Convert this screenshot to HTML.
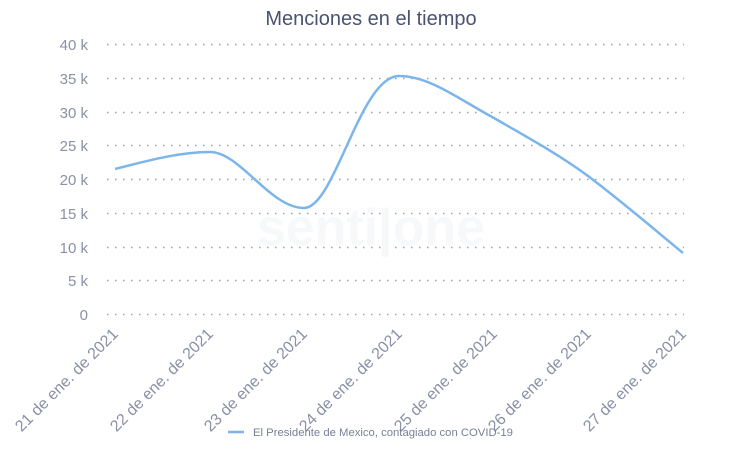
<!DOCTYPE html>
<html><head><style>body{margin:0;background:#fff}svg{display:block;font-family:"Liberation Sans",sans-serif}</style></head>
<body>
<svg width="742" height="450" xmlns="http://www.w3.org/2000/svg">
<text x="371" y="25" text-anchor="middle" font-size="20" fill="#4a5370">Menciones en el tiempo</text>
<g stroke="#9aa0ae" stroke-width="1.5" stroke-dasharray="1.5,6.5">
<line x1="107" x2="684" y1="44.5" y2="44.5"/><line x1="107" x2="684" y1="78.5" y2="78.5"/>
<line x1="107" x2="684" y1="112.5" y2="112.5"/><line x1="107" x2="684" y1="145.5" y2="145.5"/>
<line x1="107" x2="684" y1="179.5" y2="179.5"/><line x1="107" x2="684" y1="213.5" y2="213.5"/>
<line x1="107" x2="684" y1="247.5" y2="247.5"/><line x1="107" x2="684" y1="280.5" y2="280.5"/>
<line x1="107" x2="684" y1="314.5" y2="314.5"/>
</g>
<g font-size="15" fill="#8a90a6" text-anchor="end">
<text x="88" y="50">40 k</text><text x="88" y="84">35 k</text><text x="88" y="118">30 k</text>
<text x="88" y="151">25 k</text><text x="88" y="185">20 k</text><text x="88" y="219">15 k</text>
<text x="88" y="253">10 k</text><text x="88" y="286">5 k</text><text x="88" y="320">0</text>
</g>
<text x="371" y="245" text-anchor="middle" font-size="52" fill="#f7f8f9" font-weight="bold">senti|one</text>
<path d="M115,169 C150,160 180,152 210,152 C240,152 270,208 304,208 C335,208 360,76 399,76 C430,76 460,100 494,118 C525,136 560,155 588,176 C620,200 655,230 683,253" fill="none" stroke="#7cb5ec" stroke-width="2.5"/>
<g font-size="16" fill="#8a90a6" text-anchor="end">
<text transform="translate(119,335) rotate(-45)">21 de ene. de 2021</text>
<text transform="translate(214,335) rotate(-45)">22 de ene. de 2021</text>
<text transform="translate(308,335) rotate(-45)">23 de ene. de 2021</text>
<text transform="translate(403,335) rotate(-45)">24 de ene. de 2021</text>
<text transform="translate(498,335) rotate(-45)">25 de ene. de 2021</text>
<text transform="translate(592,335) rotate(-45)">26 de ene. de 2021</text>
<text transform="translate(687,335) rotate(-45)">27 de ene. de 2021</text>
</g>
<line x1="228" x2="244" y1="432" y2="432" stroke="#7cb5ec" stroke-width="2.5"/>
<text x="253" y="436" font-size="11.3" fill="#7a8096">El Presidente de Mexico, contagiado con COVID-19</text>
</svg>
</body></html>
